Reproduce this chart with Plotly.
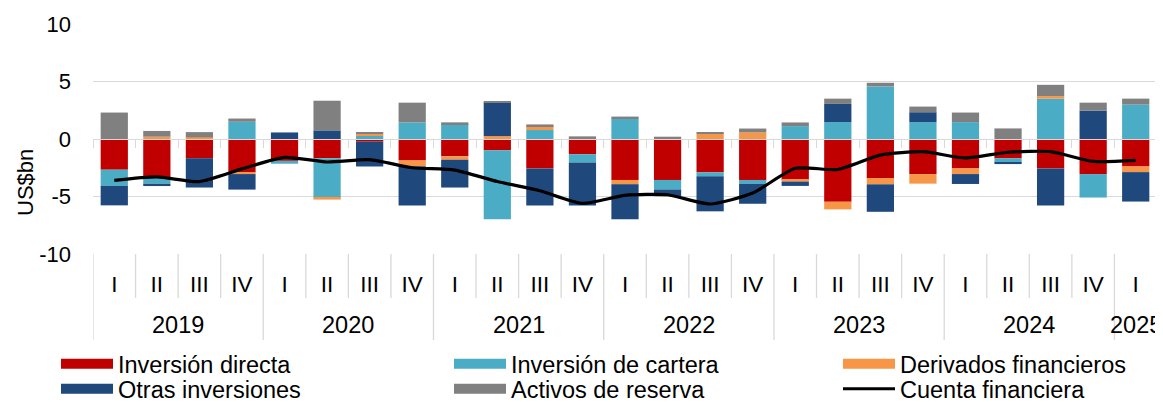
import plotly.graph_objects as go

# ---------------- data ----------------
quarters = ["I", "II", "III", "IV"] * 6 + ["I"]
years = (["2019"] * 4 + ["2020"] * 4 + ["2021"] * 4 + ["2022"] * 4 +
         ["2023"] * 4 + ["2024"] * 4 + ["2025"])

inversion_directa = [-2.67, -3.39, -1.67, -2.90, -1.90, -1.67, -0.23, -1.87, -1.50, -0.98,
                     -2.56, -1.32, -3.56, -3.56, -2.90, -3.56, -3.56, -5.46, -3.39, -3.05,
                     -2.56, -1.67, -2.56, -3.05, -2.39]
inversion_cartera = [-1.40, -0.50, 0.00, 1.50, -0.25, -3.45, 0.30, 1.44, 1.30, -6.00,
                     0.78, -0.72, 1.78, -0.83, -0.34, -0.34, 1.12, 1.47, 4.57, 1.47,
                     1.47, -0.37, 3.50, -2.04, 2.99]
derivados = [0.00, 0.20, 0.15, -0.15, 0.00, -0.15, 0.15, -0.49, -0.30, 0.25,
             0.35, 0.00, -0.37, 0.00, 0.46, 0.57, -0.14, -0.66, -0.55, -0.83,
             -0.49, 0.00, 0.23, 0.00, -0.49]
otras_inversiones = [-1.70, -0.20, -2.55, -1.35, 0.57, 0.75, -2.16, -3.42, -2.42, 2.95,
                     -3.22, -3.74, -3.05, -0.58, -3.05, -1.73, -0.38, 1.58, -2.39, 0.86,
                     -0.86, -0.14, -3.22, 2.47, -2.56]
activos_reserva = [2.30, 0.50, 0.45, 0.28, 0.00, 2.58, 0.15, 1.72, 0.15, 0.10,
                   0.14, 0.23, 0.17, 0.20, 0.14, 0.34, 0.32, 0.46, 0.32, 0.49,
                   0.83, 0.92, 0.98, 0.69, 0.52]
cuenta_financiera = [-3.60, -3.30, -3.70, -2.60, -1.60, -2.00, -1.80, -2.50, -2.70, -3.70,
                     -4.50, -5.60, -4.90, -4.85, -5.65, -4.70, -2.55, -2.65, -1.40, -1.10,
                     -1.65, -1.15, -1.10, -1.95, -1.85]

y_ticks = [-10, -5, 0, 5, 10]
y_tick_labels = ["-10", "-5", "0", "5", "10"]

series_names = ["Inversión directa", "Inversión de cartera", "Derivados financieros",
                "Otras inversiones", "Activos de reserva"]
series_values = [inversion_directa, inversion_cartera, derivados,
                 otras_inversiones, activos_reserva]
series_colors = ["#C00000", "#4BACC6", "#F79646", "#1F497D", "#808080"]
line_name = "Cuenta financiera"

# ---------------- geometry helpers ----------------
# page body has an 8px default margin, so work in window pixels and subtract it
OFF = 8
WIN_W, WIN_H = 1163, 402
W, H = WIN_W - OFF, WIN_H - OFF
L_WIN, R_WIN, T_WIN, B_WIN = 93, 1157, 24, 254
L, R, T, B = L_WIN - OFF, R_WIN - OFF, T_WIN - OFF, B_WIN - OFF
FONT = "Liberation Sans, Arial, sans-serif"
FS_TICK = 22
FS_TEXT = 23.5
GRID = "#D9D9D9"


def px_x(px_win):
    return (px_win - L_WIN) / (R_WIN - L_WIN)


def px_y(py_win):
    return (B_WIN - py_win) / (B_WIN - T_WIN)


n = len(quarters)
x = list(range(n))

fig = go.Figure()
for name, vals, col in zip(series_names, series_values, series_colors):
    fig.add_trace(go.Bar(x=x, y=vals, name=name, marker=dict(color=col, line=dict(width=0)),
                         width=0.64, showlegend=False))
fig.add_trace(go.Scatter(x=x, y=cuenta_financiera, name=line_name, mode="lines",
                         line=dict(color="black", width=3.2, shape="spline", smoothing=0.6),
                         showlegend=False))

# dummy trace for overlay axis carrying the zero-line tick marks
fig.add_trace(go.Scatter(x=[None], y=[None], xaxis="x2", yaxis="y", showlegend=False,
                         hoverinfo="skip"))

# ---------------- legends (3 columns x 2 rows) ----------------
col_swatch_x = [62, 455, 844]
row_center_y = [364, 389]
legend_order = [(0, 0, 0), (1, 1, 0), (2, 2, 0), (3, 0, 1), (4, 1, 1), (5, 2, 1)]
layout_legends = {}
entry_names = series_names + [line_name]
entry_colors = series_colors + ["black"]
for idx, col, row in legend_order:
    key = "legend" if idx == 0 else f"legend{idx + 1}"
    is_line = idx == 5
    fig.add_trace(go.Scatter(x=[None], y=[None], mode="lines", name=entry_names[idx],
                             line=dict(color=entry_colors[idx], width=3 if is_line else 10),
                             legend=key, showlegend=True, hoverinfo="skip"))
    layout_legends[key] = dict(
        x=px_x(col_swatch_x[col] - 6), y=px_y(row_center_y[row]),
        xanchor="left", yanchor="middle", orientation="v",
        font=dict(family=FONT, size=FS_TEXT, color="#000000"),
        bgcolor="rgba(0,0,0,0)", borderwidth=0, itemwidth=52,
        itemclick=False, itemdoubleclick=False)

# ---------------- category-axis boxes ----------------
shapes = []
short_y = px_y(298)
long_y = px_y(340)
for k in range(n + 1):
    b = k - 0.5
    is_year_edge = (k == 0 or k == n or years[k] != years[k - 1])
    shapes.append(dict(type="line", xref="x", yref="paper", x0=b, x1=b, y0=0,
                       y1=long_y if is_year_edge else short_y,
                       line=dict(color=GRID, width=1.3), layer="below"))

annotations = []
uniq_years = []
for yv in years:
    if yv not in uniq_years:
        uniq_years.append(yv)
for yv in uniq_years:
    idxs = [i for i, v in enumerate(years) if v == yv]
    annotations.append(dict(x=sum(idxs) / len(idxs), y=px_y(325), xref="x", yref="paper",
                            text=yv, showarrow=False, xanchor="center", yanchor="middle",
                            font=dict(family=FONT, size=FS_TEXT, color="#000000")))
annotations.append(dict(x=px_x(25), y=px_y(183), xref="paper", yref="paper", text="US$bn",
                        textangle=-90, showarrow=False, xanchor="center", yanchor="middle",
                        font=dict(family=FONT, size=FS_TICK, color="#000000")))

fig.update_layout(
    width=W, height=H,
    margin=dict(l=L, r=W - R, t=T, b=H - B, pad=0, autoexpand=False),
    paper_bgcolor="white", plot_bgcolor="white",
    barmode="relative", bargap=0.36,
    font=dict(family=FONT, size=FS_TICK, color="#000000"),
    shapes=shapes, annotations=annotations,
    xaxis=dict(range=[-0.5, n - 0.5], tickmode="array", tickvals=x, ticktext=quarters,
               showgrid=False, zeroline=False, showline=False, ticks="",
               ticklabelstandoff=14, tickfont=dict(family=FONT, size=22.5, color="#000000"),
               fixedrange=True, automargin=False),
    xaxis2=dict(range=[-0.5, n - 0.5], overlaying="x", anchor="free", position=0.5,
                side="bottom", tickmode="array", tickvals=[k - 0.5 for k in range(n + 1)],
                ticks="outside", ticklen=8, tickcolor=GRID, tickwidth=1.3,
                showticklabels=False, showline=True, linecolor=GRID, linewidth=1.3,
                showgrid=False, zeroline=False),
    yaxis=dict(range=[-10, 10], tickmode="array", tickvals=y_ticks, ticktext=y_tick_labels,
               showgrid=True, gridcolor=GRID, gridwidth=1.3, zeroline=False,
               showline=False, ticks="", ticklabelstandoff=21,
               tickfont=dict(family=FONT, size=FS_TICK, color="#000000"), fixedrange=True,
               automargin=False),
    **layout_legends,
)

fig.write_html("out.html")
